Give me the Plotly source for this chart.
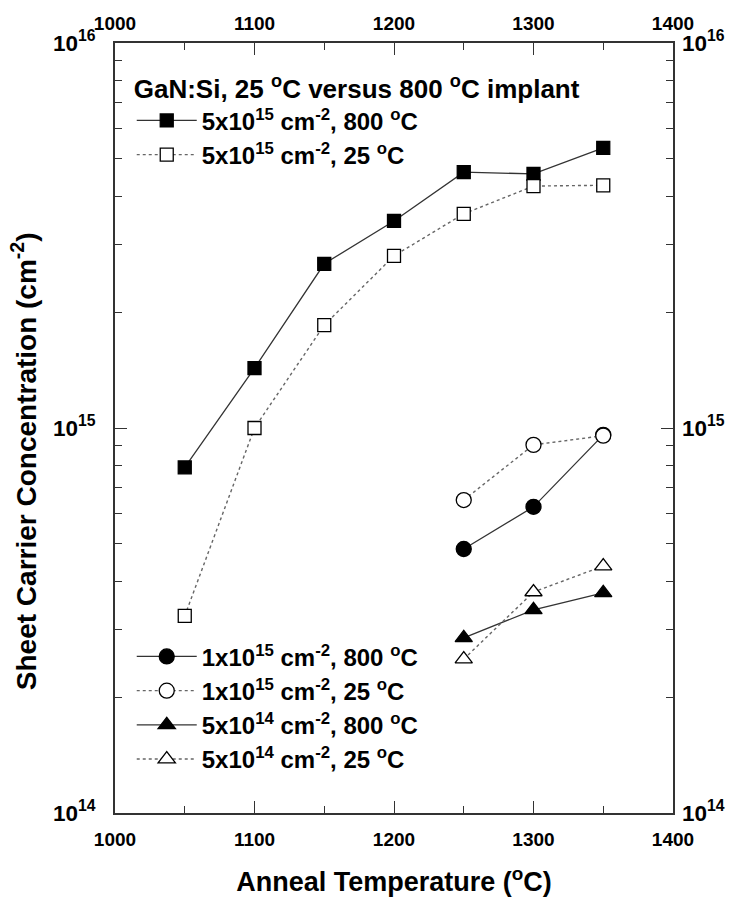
import plotly.graph_objects as go

# Anneal temperatures (deg C)
temps_high = [1050, 1100, 1150, 1200, 1250, 1300, 1350]
temps_low = [1250, 1300, 1350]

# Sheet carrier concentration (cm^-2)
dose5e15_800 = [7.9e14, 1.43e15, 2.67e15, 3.45e15, 4.62e15, 4.57e15, 5.34e15]
dose5e15_25 = [3.25e14, 1.0e15, 1.85e15, 2.8e15, 3.6e15, 4.25e15, 4.27e15]
dose1e15_800 = [4.85e14, 6.24e14, 9.6e14]
dose1e15_25 = [6.5e14, 9.04e14, 9.55e14]
dose5e14_800 = [2.85e14, 3.37e14, 3.73e14]
dose5e14_25 = [2.51e14, 3.75e14, 4.38e14]

DEG = "<sup>o</sup>C"
names = [
    f"5x10<sup>15</sup> cm<sup>-2</sup>, 800 {DEG}",
    f"5x10<sup>15</sup> cm<sup>-2</sup>, 25 {DEG}",
    f"1x10<sup>15</sup> cm<sup>-2</sup>, 800 {DEG}",
    f"1x10<sup>15</sup> cm<sup>-2</sup>, 25 {DEG}",
    f"5x10<sup>14</sup> cm<sup>-2</sup>, 800 {DEG}",
    f"5x10<sup>14</sup> cm<sup>-2</sup>, 25 {DEG}",
]

FONT = "Liberation Sans, Arial, sans-serif"
solid = dict(color="#333333", width=1.3)
dotted = dict(color="#666666", width=1.4, dash="dot")

series = [
    (temps_high, dose5e15_800, names[0], solid, "square", "black", 13, "legend"),
    (temps_high, dose5e15_25, names[1], dotted, "square", "white", 13, "legend"),
    (temps_low, dose1e15_800, names[2], solid, "circle", "black", 15, "legend2"),
    (temps_low, dose1e15_25, names[3], dotted, "circle", "white", 15, "legend2"),
    (temps_low, dose5e14_800, names[4], solid, "triangle-up", "black", 15, "legend2"),
    (temps_low, dose5e14_25, names[5], dotted, "triangle-up", "white", 15, "legend2"),
]

fig = go.Figure()
for xs, ys, name, line, sym, fill, size, leg in series:
    fig.add_trace(go.Scatter(
        x=xs, y=ys, name=name, mode="lines+markers", line=line,
        marker=dict(symbol=sym, size=size, color=fill,
                    line=dict(color="black", width=1.3)),
        legend=leg,
    ))

xfont = dict(family=FONT, size=19, color="black", weight="bold")
yfont = dict(family=FONT, size=18, color="black", weight="bold")

xcommon = dict(range=[1000, 1400], dtick=100, tick0=1000, ticks="inside",
               ticklen=12, tickwidth=1.3, tickcolor="#333", ticklabelstandoff=8,
               minor=dict(dtick=50, ticks="inside", ticklen=7, tickwidth=1.3, tickcolor="#333"),
               showgrid=False, zeroline=False, tickfont=xfont, automargin=False)
ycommon = dict(type="log", range=[14, 16], dtick=1, ticks="inside",
               ticklen=12, tickwidth=1.3, tickcolor="#333",
               exponentformat="power",
               minor=dict(dtick="D1", ticks="inside", ticklen=7, tickwidth=1.3, tickcolor="#333"),
               showgrid=False, zeroline=False, tickfont=yfont, automargin=False)

fig.update_layout(
    width=729, height=902,
    margin=dict(l=115, r=56, t=43, b=89, autoexpand=False),
    paper_bgcolor="white", plot_bgcolor="white",
    font=dict(family=FONT, color="black", weight="bold"),
    xaxis=dict(**xcommon, showline=True, linecolor="#333", linewidth=1.5, mirror=True,
               title=dict(text=f"Anneal Temperature ({DEG})",
                          font=dict(family=FONT, size=27, weight="bold"), standoff=24)),
    yaxis=dict(**ycommon, ticklabelstandoff=14, showline=True, linecolor="#333",
               linewidth=1.5, mirror=True),
    xaxis2=dict(**xcommon, overlaying="x", side="top", matches="x", showline=False),
    yaxis2=dict(**ycommon, ticklabelstandoff=8, overlaying="y", side="right",
                matches="y", showline=False),
    legend=dict(
        x=0.03, y=0.972, xanchor="left", yanchor="top",
        bgcolor="rgba(0,0,0,0)", tracegroupgap=0, itemwidth=60,
        font=dict(family=FONT, size=24, weight="bold"),
        title=dict(text=f"GaN:Si, 25 {DEG} versus 800 {DEG} implant",
                   font=dict(family=FONT, size=26, weight="bold")),
    ),
    legend2=dict(
        x=0.03, y=0.232, xanchor="left", yanchor="top",
        bgcolor="rgba(0,0,0,0)", tracegroupgap=0, itemwidth=60,
        font=dict(family=FONT, size=24, weight="bold"),
    ),
    showlegend=True,
)

# Vertical axis title, set a little below the plot's centre line
fig.add_annotation(
    text="Sheet Carrier Concentration (cm<sup>-2</sup>)",
    textangle=-90, xref="paper", yref="paper", x=-0.163, y=0.457,
    xanchor="center", yanchor="middle", showarrow=False,
    font=dict(family=FONT, size=28, weight="bold", color="black"),
)

# Invisible carrier so the top/right label axes are rendered
fig.add_trace(go.Scatter(x=[None], y=[None], xaxis="x2", yaxis="y2",
                         showlegend=False, hoverinfo="skip"))

fig.write_html("out.html")
